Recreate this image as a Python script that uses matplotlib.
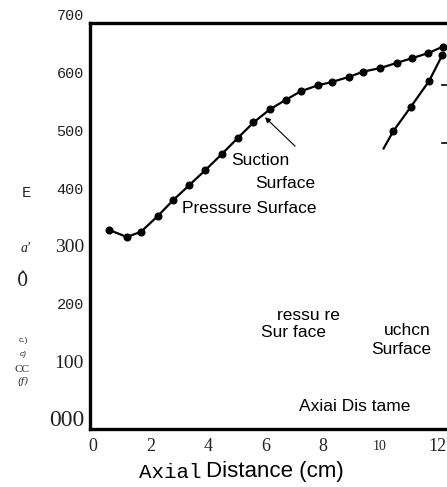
import numpy as np
import matplotlib
matplotlib.use("Agg")
from matplotlib import pyplot as plt

# axial distance (cm) and value along the blade surfaces
suction_x = [0.57, 1.18, 1.67, 2.25, 2.80, 3.36, 3.90, 4.48, 5.06, 5.59, 6.17,
             6.71, 7.24, 7.82, 8.32, 8.93, 9.42, 10.00, 10.58, 11.10, 11.68, 12.18]
suction_y = [330, 318, 327, 354, 382, 408, 433, 461, 490, 516, 539,
             555, 570, 580, 586, 595, 604, 610, 619, 627, 636, 647]

pressure_x = [12.16, 11.71, 11.07, 10.46, 10.12]
pressure_y = [632, 588, 543, 501, 471]

ytick_vals = [700, 600, 500, 400, 300, 200, 100, 0]
ytick_text = ["700", "600", "500", "400", "300", "200", "100", "000"]
xtick_vals = [0, 2, 4, 6, 8, 10, 12]

W, H = 447, 487
fig = plt.figure(figsize=(W / 100, H / 100), dpi=100)
ax = fig.add_axes([90 / W, 1 - 429 / H, (W - 90) / W, (429 - 23) / H])
ax.set_xlim(-0.105, 12.33)
ax.set_ylim(-14, 688)

ax.plot(suction_x, suction_y, color="black", lw=1.6, marker="o", ms=4.8)
ax.plot(pressure_x, pressure_y, color="black", lw=1.6, marker="o", ms=4.8,
        markevery=[0, 1, 2, 3])

# short ticks of the neighbouring panel
for yv in [581, 481]:
    ax.axhline(yv, xmin=0.985, xmax=1.0, color="black", lw=1.2, clip_on=False)

for s in ["left", "bottom", "top"]:
    ax.spines[s].set_linewidth(2.4)
ax.spines["right"].set_visible(False)
ax.set_xticks([])
ax.set_yticks([])

# y labels, mixed fonts
ytr = ax.get_yaxis_transform()
mono = {"family": "Liberation Mono", "size": 11}
serif = {"family": "Liberation Serif", "size": 14}
for v, t in zip(ytick_vals, ytick_text):
    if t in ("300", "100"):
        kw = serif
    elif t == "000":
        kw = {"family": "Liberation Serif", "size": 17}
    else:
        kw = mono
    ax.text(-0.017, v, t, transform=ytr, ha="right", va="center",
            clip_on=False, color="#222222", **kw)

# x labels
xtr = ax.get_xaxis_transform()
for v in xtick_vals:
    size = 10 if v == 10 else 13
    ax.text(v, -0.043, str(v), transform=xtr, ha="center", va="center",
            family="Liberation Serif", size=size, fontstretch="condensed",
            color="#222222", clip_on=False)

fig.text(139 / W, 1 - 472 / H, "Axial", family="Liberation Mono", size=15,
         ha="left", va="center")
fig.text(206 / W, 1 - 472 / H, "Distance (cm)", family="Liberation Sans",
         size=16, ha="left", va="center")

# stray characters along the left edge
fig.text(26 / W, 1 - 193 / H, "E", family="Liberation Mono", size=11,
         ha="center", va="center", color="#222222")
fig.text(26 / W, 1 - 249 / H, "a'", family="Liberation Serif", style="italic",
         size=10, ha="center", va="center", color="#222222")
fig.text(23 / W, 1 - 281 / H, "0\u0302", family="DejaVu Serif", size=13,
         ha="center", va="center", color="#222222")
fig.text(23 / W, 1 - 341 / H, "c.)", family="Liberation Sans", size=6,
         ha="center", va="center", color="#222222")
fig.text(23 / W, 1 - 354 / H, "c)", family="Liberation Sans", style="italic",
         size=6, ha="center", va="center", color="#222222")
fig.text(22 / W, 1 - 369 / H, "CC", family="Liberation Serif", size=8,
         fontstretch="condensed", ha="center", va="center", color="#222222")
fig.text(23 / W, 1 - 381 / H, "(\u0192)", family="DejaVu Serif", style="italic",
         size=7, ha="center", va="center", color="#222222")

# annotations inside the plot
sans = {"family": "Liberation Sans", "size": 12.5}
ax.text(4.83, 451, "Suction", ha="left", va="center", **sans)
ax.text(5.64, 411, "Surface", ha="left", va="center", **sans)
ax.text(3.09, 368, "Pressure Surface", ha="left", va="center", **sans)
ax.text(6.41, 183, "ressu re", ha="left", va="center", **sans)
ax.text(5.85, 152, "Sur face", ha="left", va="center", **sans)
ax.text(10.14, 157, "uchcn", ha="left", va="center", **sans)
ax.text(9.68, 123, "Surface", ha="left", va="center", **sans)
ax.text(7.18, 25, "Axiai Dis tame", ha="left", va="center", **sans)

ax.annotate("", xy=(5.99, 525), xytext=(7.04, 475),
            arrowprops=dict(arrowstyle="-|>", color="black", lw=0.8,
                            mutation_scale=8, shrinkA=0, shrinkB=0))

fig.savefig("out.png", dpi=100)
